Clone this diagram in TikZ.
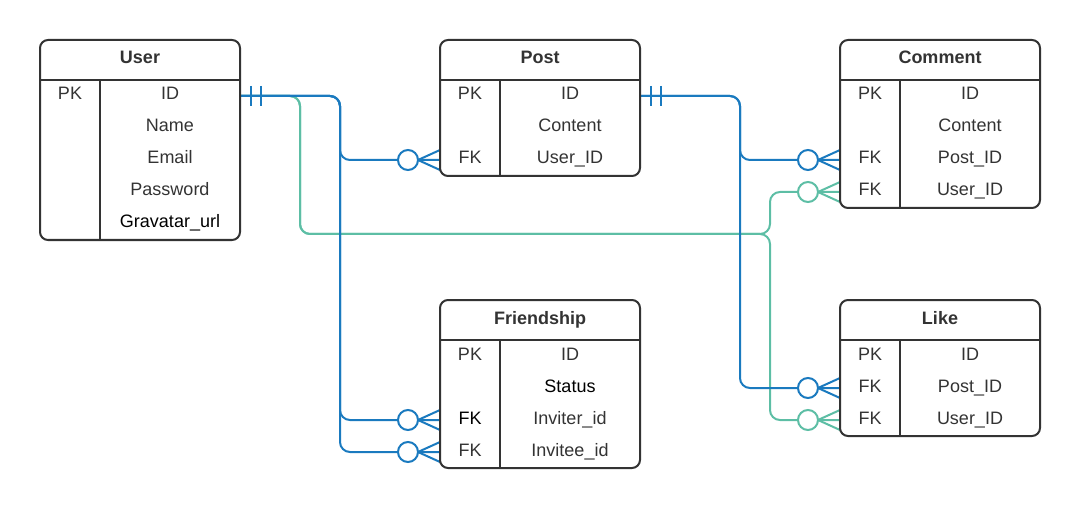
\documentclass[tikz,border=0pt]{standalone}
\usepackage{fontspec}
\setmainfont{Liberation Sans}
\usetikzlibrary{calc}
\definecolor{ink}{HTML}{333333}
\definecolor{relblue}{HTML}{1A7ABF}
\definecolor{relgreen}{HTML}{5DBEA5}
\tikzset{
  tbl/.style={draw=ink, line width=2pt, rounded corners=8pt, minimum width=200pt, anchor=north west, inner sep=0pt, outer sep=0pt},
  row/.style={minimum width=200pt, minimum height=32pt, anchor=north west, inner sep=0pt, outer sep=0pt},
  txt/.style={text=ink, font=\fontsize{18}{20}\selectfont, anchor=base, inner sep=0pt},
  hdr/.style={text=ink, font=\fontsize{18}{20}\selectfont\bfseries, anchor=base, inner sep=0pt},
  sep/.style={draw=ink, line width=2pt},
  rel/.style={line width=2pt, rounded corners=10pt},
}
\newcommand\erRow[2]{\node[row] (#1) at #2 {};}
\newcommand\erKey[3][ink]{\node[txt, text=#1] (#2-k) at ($(#2.north west)+(30,20)$) {#3};}
\newcommand\erField[3][ink]{\node[txt, text=#1] (#2-f) at ($(#2.north west)+(130,20)$) {#3};}
\newcommand\erFrame[4]{% name, corner, height, title
  \node[tbl, minimum height=#3] (#1) at #2 {};
  \node[hdr] (#1-t) at ($(#1.north)+(0,24)$) {#4};
  \draw[sep] ($(#1.north west)+(0,40)$) -- ($(#1.north east)+(0,40)$);
  \draw[sep] ($(#1.north west)+(60,40)$) -- ($(#1.south west)+(60,0)$);
}
\newcommand\manyEnd[2]{%
  \draw[#2, line width=2pt, fill=white] ($(#1)+(-32,0)$) circle (10pt);
  \draw[#2, line width=2pt] ($(#1)+(-22,0)$) -- ($(#1)+(0,-10)$)
       ($(#1)+(-22,0)$) -- ($(#1)+(0,10)$);
}
\newcommand\oneEnd[2]{%
  \draw[#2, line width=2pt] ($(#1)+(11,-10)$) -- ($(#1)+(11,10)$)
       ($(#1)+(21,-10)$) -- ($(#1)+(21,10)$);
}
\begin{document}
\begin{tikzpicture}[x=1pt, y=-1pt]
\useasboundingbox (0,0) rectangle (1080,508);

% ---------- rows (anchors for connectors) ----------
\erRow{u-id}{(40,80)} \erRow{u-name}{(40,112)} \erRow{u-email}{(40,144)} \erRow{u-pw}{(40,176)} \erRow{u-grav}{(40,208)}
\erRow{p-id}{(440,80)} \erRow{p-content}{(440,112)} \erRow{p-fk}{(440,144)}
\erRow{c-id}{(840,80)} \erRow{c-content}{(840,112)} \erRow{c-pid}{(840,144)} \erRow{c-uid}{(840,176)}
\erRow{f-id}{(440,340)} \erRow{f-status}{(440,372)} \erRow{f-inv}{(440,404)} \erRow{f-inve}{(440,436)}
\erRow{l-id}{(840,340)} \erRow{l-pid}{(840,372)} \erRow{l-uid}{(840,404)}

\coordinate (gj) at (770,234);

% ---------- connectors ----------
\draw[rel, relgreen] (u-id.east) -- ++(60,0) |- (gj) |- (c-uid.west);
\draw[rel, relgreen] (u-id.east) -- ++(60,0) |- (gj) |- (l-uid.west);
\draw[rel, relblue] (u-id.east) -- ++(100,0) |- (p-fk.west);
\draw[rel, relblue] (u-id.east) -- ++(100,0) |- (f-inv.west);
\draw[rel, relblue] (u-id.east) -- ++(100,0) |- (f-inve.west);
\draw[rel, relblue] (p-id.east) -- ++(100,0) |- (c-pid.west);
\draw[rel, relblue] (p-id.east) -- ++(100,0) |- (l-pid.west);

\oneEnd{u-id.east}{relblue}
\oneEnd{p-id.east}{relblue}
\manyEnd{p-fk.west}{relblue}
\manyEnd{f-inv.west}{relblue}
\manyEnd{f-inve.west}{relblue}
\manyEnd{c-pid.west}{relblue}
\manyEnd{l-pid.west}{relblue}
\manyEnd{c-uid.west}{relgreen}
\manyEnd{l-uid.west}{relgreen}

% ---------- tables ----------
\erFrame{user}{(40,40)}{200pt}{User}
\erKey{u-id}{PK} \erField{u-id}{ID}
\erField{u-name}{Name}
\erField{u-email}{Email}
\erField{u-pw}{Password}
\erField[black]{u-grav}{Gravatar\_url}

\erFrame{post}{(440,40)}{136pt}{Post}
\erKey{p-id}{PK} \erField{p-id}{ID}
\erField{p-content}{Content}
\erKey{p-fk}{FK} \erField{p-fk}{User\_ID}

\erFrame{comment}{(840,40)}{168pt}{Comment}
\erKey{c-id}{PK} \erField{c-id}{ID}
\erField{c-content}{Content}
\erKey{c-pid}{FK} \erField{c-pid}{Post\_ID}
\erKey{c-uid}{FK} \erField{c-uid}{User\_ID}

\erFrame{friend}{(440,300)}{168pt}{Friendship}
\erKey{f-id}{PK} \erField{f-id}{ID}
\erField[black]{f-status}{Status}
\erKey[black]{f-inv}{FK} \erField{f-inv}{Inviter\_id}
\erKey{f-inve}{FK} \erField{f-inve}{Invitee\_id}

\erFrame{like}{(840,300)}{136pt}{Like}
\erKey{l-id}{PK} \erField{l-id}{ID}
\erKey{l-pid}{FK} \erField{l-pid}{Post\_ID}
\erKey{l-uid}{FK} \erField{l-uid}{User\_ID}
\end{tikzpicture}
\end{document}
